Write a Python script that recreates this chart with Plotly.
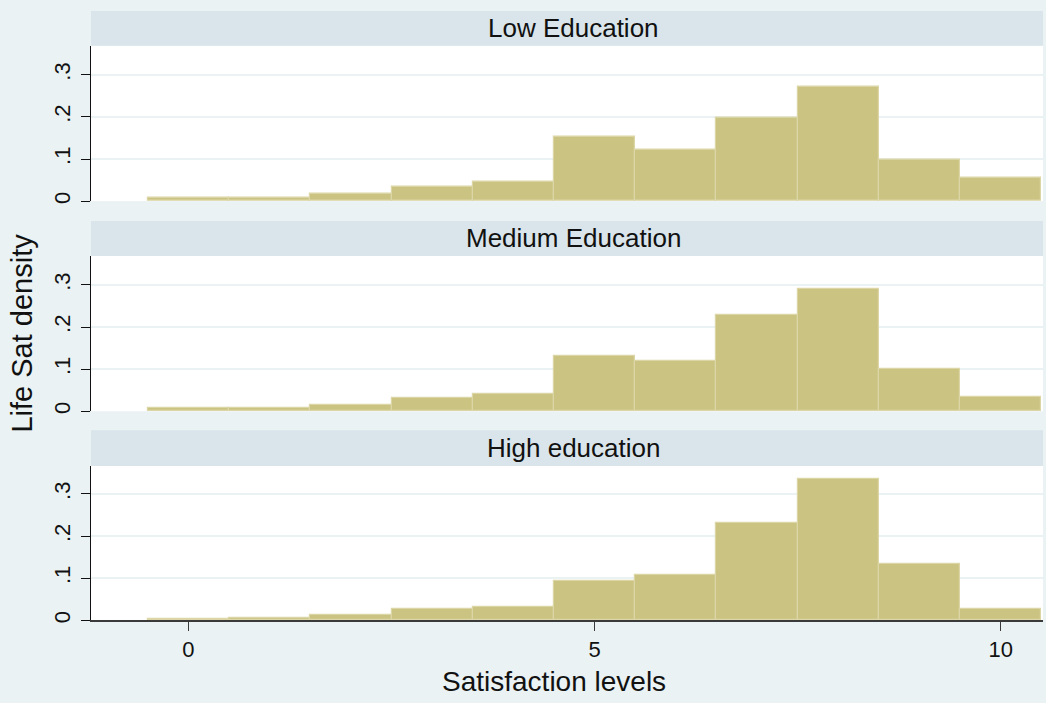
import plotly.graph_objects as go

# Histogram densities of life satisfaction (bins of width 1 centred on 0..10)
levels = [0, 1, 2, 3, 4, 5, 6, 7, 8, 9, 10]
low_edu = [0.009, 0.009, 0.017, 0.035, 0.045, 0.153, 0.121, 0.199, 0.272, 0.098, 0.056]
medium_edu = [0.007, 0.007, 0.016, 0.031, 0.041, 0.131, 0.119, 0.228, 0.290, 0.100, 0.035]
high_edu = [0.003, 0.005, 0.012, 0.026, 0.032, 0.093, 0.107, 0.231, 0.335, 0.134, 0.027]
panel_titles = ["Low Education", "Medium Education", "High education"]
y_ticks = [0, 0.1, 0.2, 0.3]
y_ticktext = ["0", ".1", ".2", ".3"]
x_ticks = [0, 5, 10]

W, H = 1046, 703
FONT = "Liberation Sans, Arial, sans-serif"
BG = "#EAF2F3"
STRIP = "#D9E5EA"
BAR = "#CBC382"
BAR_EDGE = "#DCD6A6"
GRID = "#EAF2F3"

# pixel layout of each panel: (strip top, plot top, plot bottom)
panels_px = [(11, 46, 202), (222, 257, 413), (432, 468, 623)]
x_left, x_right = 91, 1043


def py(v):
    return 1 - v / H


fig = go.Figure()
series = [low_edu, medium_edu, high_edu]
shapes = []
annotations = []
for i, (vals, (st, pt, pb)) in enumerate(zip(series, panels_px)):
    n = "" if i == 0 else str(i + 1)
    fig.add_trace(go.Bar(
        x=levels, y=vals, width=1,
        marker=dict(color=BAR, line=dict(color=BAR_EDGE, width=1.2)),
        xaxis="x" + n, yaxis="y" + n, showlegend=False,
    ))
    last = i == 2
    fig.layout["xaxis" + n] = dict(
        domain=[x_left / W, x_right / W], range=[-1.2, 10.52],
        anchor="y" + n, showgrid=False, zeroline=False,
        showline=last, linecolor="#3a3a3a", linewidth=1.5,
        ticks="outside" if last else "", ticklen=9, tickwidth=1, tickcolor="#3a3a3a",
        tickvals=x_ticks, showticklabels=last,
        tickfont=dict(family=FONT, size=22, color="#111"),
        ticklabelstandoff=0,
    )
    fig.layout["yaxis" + n] = dict(
        domain=[py(pb), py(pt)], range=[0, (pb - pt) / 423.0],
        anchor="x" + n, showgrid=True, gridcolor=GRID, gridwidth=1.5,
        zeroline=False, showline=True, linecolor="#111", linewidth=1.2,
        ticks="outside", ticklen=9, tickwidth=1.2, tickcolor="#111",
        tickvals=y_ticks, ticktext=y_ticktext, tickangle=-90,
        tickfont=dict(family=FONT, size=22, color="#111"),
        ticklabelstandoff=2,
    )
    shapes.append(dict(type="rect", xref="paper", yref="paper",
                       x0=x_left / W, x1=x_right / W, y0=py(pt), y1=py(st),
                       fillcolor=STRIP, line=dict(width=0), layer="below"))
    annotations.append(dict(text=panel_titles[i], xref="paper", yref="paper",
                            x=573 / W, y=py((st + pt) / 2), showarrow=False,
                            xanchor="center", yanchor="middle",
                            font=dict(family=FONT, size=26, color="#111")))

annotations.append(dict(text="Satisfaction levels", xref="paper", yref="paper",
                        x=554 / W, y=py(684), showarrow=False,
                        xanchor="center", yanchor="middle",
                        font=dict(family=FONT, size=28, color="#111")))
annotations.append(dict(text="Life Sat density", xref="paper", yref="paper",
                        x=22 / W, y=py(335), showarrow=False, textangle=-90,
                        xanchor="center", yanchor="middle",
                        font=dict(family=FONT, size=29, color="#111")))

fig.update_layout(
    width=W, height=H, margin=dict(l=0, r=0, t=0, b=0),
    paper_bgcolor=BG, plot_bgcolor="white", bargap=0,
    shapes=shapes, annotations=annotations,
)

fig.write_html("out.html")
